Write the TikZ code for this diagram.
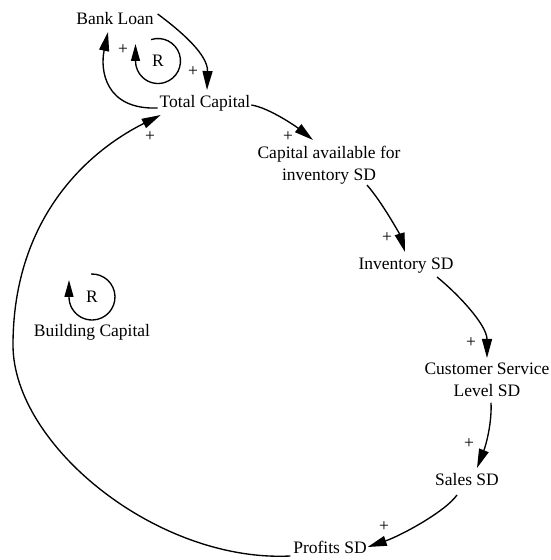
\documentclass[tikz,border=0pt]{standalone}
\usepackage{fontspec}
\setmainfont{Liberation Serif}
\newfontfamily\diagserif{Liberation Serif}
\usetikzlibrary{arrows.meta}
\begin{document}
\begin{tikzpicture}[x=1pt,y=1pt,
  var/.style={inner sep=0pt, outer sep=0pt, font=\diagserif\fontsize{17.5}{22}\selectfont},
  pol/.style={inner sep=0pt, outer sep=0pt, font=\diagserif\fontsize{17.5}{22}\selectfont},
  link/.style={line width=1.35pt, -{Triangle[length=19pt,width=10pt]}},
  loopmark/.style={line width=1.35pt, -{Triangle[length=17pt,width=9pt]}}]
\useasboundingbox (0,0) rectangle (551,560);
% variables
\node[var, anchor=base] (BL) at (115,535) {Bank Loan};
\node[var, anchor=base] (TC) at (205,452) {Total Capital};
\node[var, align=center, anchor=north] (CA) at (329,414) {Capital available for\\inventory SD};
\node[var, anchor=base] (INV) at (406,290) {Inventory SD};
\node[var, align=center, anchor=north] (CS) at (487,197) {Customer Service\\Level SD};
\node[var, anchor=base] (SA) at (467,74) {Sales SD};
\node[var, anchor=base] (PR) at (330,6) {Profits SD};
\node[var, anchor=base] (BC) at (92,223) {Building Capital};
% loop markers
\node[var] (R1) at (158,499) {R};
\node[var] (R2) at (92,263) {R};
\draw[loopmark] (R1.center) ++(108:22.5) arc[start angle=108, end angle=-180, radius=22.5] -- ++(0,17);
\draw[loopmark] (R2.center) ++(92:23) arc[start angle=92, end angle=-180, radius=23] -- ++(0,17);
% links
\draw[link] ([shift={(4,11)}]BL.base east) .. controls (182,528) and (208,505) .. ([shift={(2,18)}]TC.base);
\draw[link] ([shift={(-2,0)}]TC.base west) .. controls (105,450) and (100,490) .. ([shift={(-7,-7)}]BL.base);
\draw[link] ([shift={(1,3)}]TC.base east) .. controls (270,452) and (298,432) .. ([shift={(-16,6)}]CA.north);
\draw[link] ([shift={(38,-1)}]CA.south) .. controls (382,358) and (400,325) .. ([shift={(-1,18)}]INV.base);
\draw[link] ([shift={(31,-7)}]INV.base) .. controls (458,266) and (487,235) .. ([shift={(0,5)}]CS.north);
\draw[link] ([shift={(4,-6)}]CS.south) .. controls (492,137) and (486,115) .. ([shift={(10,18)}]SA.base);
\draw[link] ([shift={(-10,-9)}]SA.base) .. controls (445,48) and (400,24) .. ([shift={(1,7)}]PR.base east);
\coordinate (bend) at (13,215);
\draw[link] ([shift={(-3,-2)}]PR.base west) .. controls (157,-2.5) and (13,115) .. (bend)
  .. controls (13,335) and (80.5,404.8) .. ([shift={(1,-7)}]TC.base west);
% polarities
\node[pol] (p1) at (123,510) {+};
\node[pol] (p2) at (193,488) {+};
\node[pol] (p3) at (288,423) {+};
\node[pol] (p4) at (150,423) {+};
\node[pol] (p5) at (387,322) {+};
\node[pol] (p6) at (471,217) {+};
\node[pol] (p7) at (469,116) {+};
\node[pol] (p8) at (384,33) {+};
\end{tikzpicture}
\end{document}
